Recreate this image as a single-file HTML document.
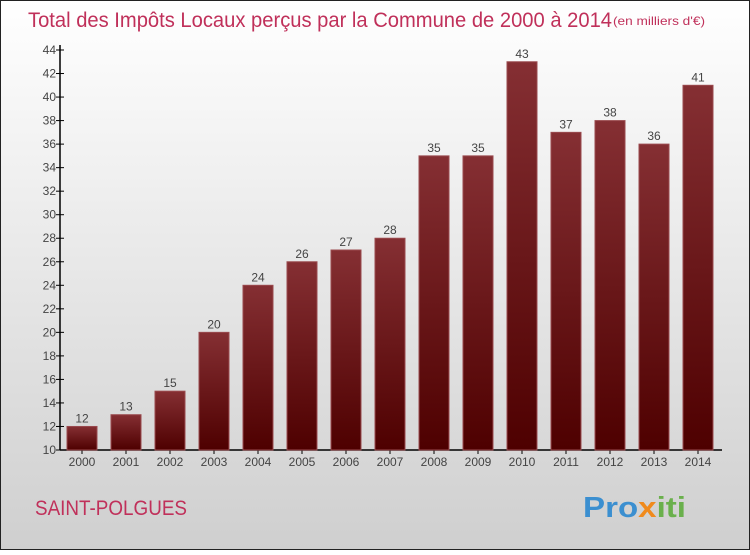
<!DOCTYPE html>
<html><head><meta charset="utf-8"><style>
html,body{margin:0;padding:0}
body{width:750px;height:550px;overflow:hidden;font-family:"Liberation Sans",sans-serif}
</style></head><body>
<svg width="750" height="550" xmlns="http://www.w3.org/2000/svg">
<defs>
<linearGradient id="bg" x1="0" y1="0" x2="0" y2="1"><stop offset="0" stop-color="#ffffff"/><stop offset="1" stop-color="#cfcfcf"/></linearGradient>
<linearGradient id="bar" x1="0" y1="0" x2="0" y2="1"><stop offset="0" stop-color="#852f33"/><stop offset="1" stop-color="#4e0000"/></linearGradient>
</defs>
<rect x="0.5" y="0.5" width="749" height="549" fill="url(#bg)" stroke="#222"/>
<text x="28" y="27" font-size="21" fill="#c0305a" textLength="584" lengthAdjust="spacingAndGlyphs">Total des Impôts Locaux perçus par la Commune de 2000 à 2014</text>
<text x="613" y="25" font-size="12" fill="#c0305a" textLength="92" lengthAdjust="spacingAndGlyphs">(en milliers d'€)</text>
<g id="axes"></g>
<g id="bars"></g>
<text x="35" y="515" font-size="21" fill="#c0305a" textLength="152" lengthAdjust="spacingAndGlyphs">SAINT-POLGUES</text>
<text x="583" y="517" font-size="29" font-weight="bold" textLength="103" lengthAdjust="spacingAndGlyphs"><tspan fill="#3b8fd0">Pro</tspan><tspan fill="#f08a1c">x</tspan><tspan fill="#6ab04c">iti</tspan></text>
</svg>
<script>
const years=["2000","2001","2002","2003","2004","2005","2006","2007","2008","2009","2010","2011","2012","2013","2014"];
const values=[12,13,15,20,24,26,27,28,35,35,43,37,38,36,41];
const yTicks=[10,12,14,16,18,20,22,24,26,28,30,32,34,36,38,40,42,44];
const NS="http://www.w3.org/2000/svg";
const y0=450,y1=50,vmin=10,vmax=44;
function ys(v){return y0-(v-vmin)/(vmax-vmin)*(y0-y1);}
function xs(i){return 82+44*i;}
function mk(t,a,p){const e=document.createElementNS(NS,t);for(const k in a)e.setAttribute(k,a[k]);p.appendChild(e);return e;}
const ax=document.getElementById('axes'),bg=document.getElementById('bars');
let l=mk('line',{x1:60,y1:45,x2:60,y2:450,stroke:'#000','stroke-width':1.5},ax);


l=mk('line',{x1:60,y1:450,x2:722,y2:450,stroke:'#000','stroke-width':1.5},ax);


yTicks.forEach(v=>{
 const y=ys(v);
 const t=mk('line',{x1:56,y1:y,x2:64,y2:y,stroke:'#000'},ax);
 
 
 const tx=mk('text',{x:56,y:y+4,'text-anchor':'end','font-size':12,fill:'#444'},ax);
 tx.textContent=v;
 
 
});
years.forEach((yr,i)=>{
 const x=xs(i),v=values[i],top=ys(v);
 const tk=mk('line',{x1:x,y1:450,x2:x,y2:454,stroke:'#000'},ax);
 
 
 const r=mk('rect',{x:x-15,y:top,width:30,height:450-top,fill:'url(#bar)',stroke:'#9a4a4e','stroke-width':1},bg);
 
 
 const lb=mk('text',{x:x,y:top-4,'text-anchor':'middle','font-size':12,fill:'#444'},bg);
 lb.textContent=v;
 
 
 const xl=mk('text',{x:x,y:466,'text-anchor':'middle','font-size':12,fill:'#444'},ax);
 xl.textContent=yr;
 
 
});
</script>
</body></html>
